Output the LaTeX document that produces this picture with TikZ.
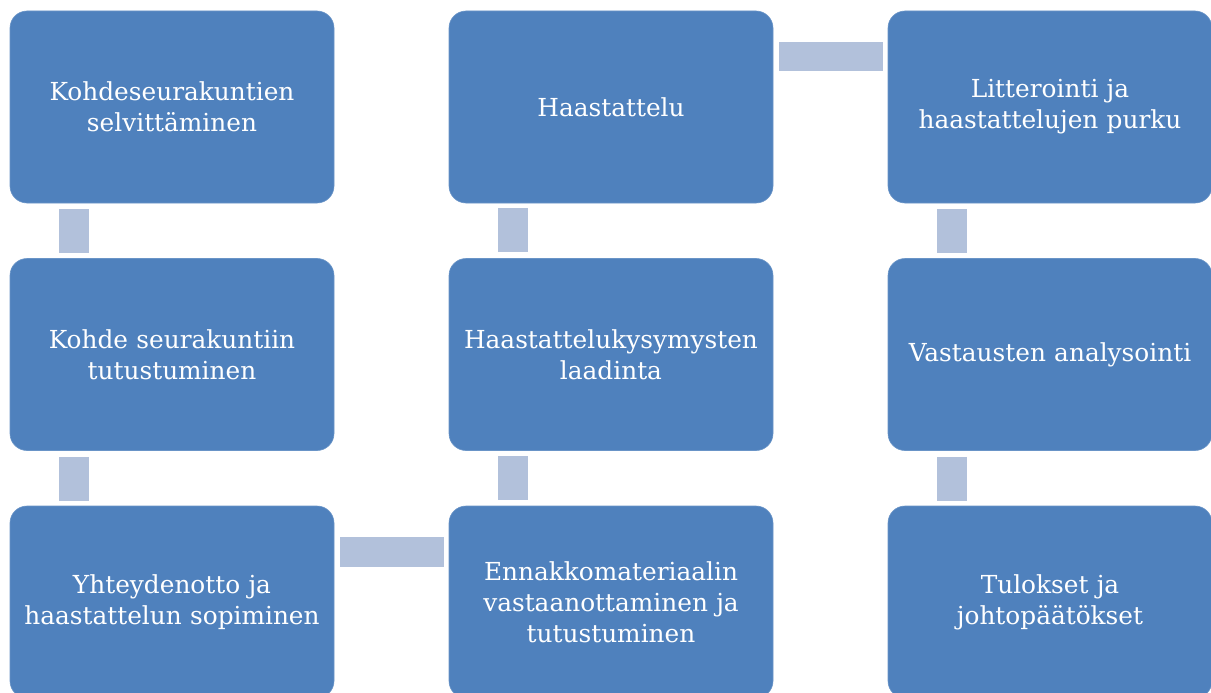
\documentclass[tikz,border=0pt]{standalone}
\usepackage{fontspec}
\setmainfont{DejaVu Serif}
\usetikzlibrary{calc}
\definecolor{boxblue}{HTML}{4F81BD}
\definecolor{connblue}{HTML}{B2C1DB}
\tikzset{
  stepbox/.style={rectangle, rounded corners=17pt, fill=boxblue, draw=boxblue!85!white, line width=0.6pt,
    minimum width=324pt, minimum height=192pt, text width=322pt, align=center, inner sep=0pt,
    text=white, font=\fontsize{24.8}{31}\selectfont},
  vconn/.style={draw=connblue, line width=30pt, shorten <=6pt, shorten >=5pt},
  hconn/.style={draw=connblue, line width=29.5pt, shorten <=6pt, shorten >=5pt}
}
\begin{document}
\begin{tikzpicture}[x=1pt,y=-1pt]
\useasboundingbox (0,0) rectangle (1211,693);
\node[stepbox] (a1) at (172,107) {Kohdeseurakuntien\\selvittäminen};
\node[stepbox] (a2) at (172,354.5) {Kohde seurakuntiin\\tutustuminen};
\node[stepbox] (a3) at (172,602) {Yhteydenotto ja\\haastattelun sopiminen};
\node[stepbox] (b3) at (611,602) {Ennakkomateriaalin\\vastaanottaminen ja\\tutustuminen};
\node[stepbox] (b2) at (611,354.5) {Haastattelukysymysten\\laadinta};
\node[stepbox] (b1) at (611,107) {Haastattelu};
\node[stepbox] (c1) at (1050,107) {Litterointi ja\\haastattelujen purku};
\node[stepbox] (c2) at (1050,354.5) {Vastausten analysointi};
\node[stepbox] (c3) at (1050,602) {Tulokset ja\\johtopäätökset};
\draw[vconn] ($(a1.south west)+(64,0)$) -- ($(a2.north west)+(64,0)$);
\draw[vconn] ($(a2.south west)+(64,0)$) -- ($(a3.north west)+(64,0)$);
\draw[hconn] ($(a3.north east)+(0,46.5)$) -- ($(b3.north west)+(0,46.5)$);
\draw[vconn] ($(b3.north west)+(64,0)$) -- ($(b2.south west)+(64,0)$);
\draw[vconn] ($(b2.north west)+(64,0)$) -- ($(b1.south west)+(64,0)$);
\draw[hconn] ($(b1.north east)+(0,46)$) -- ($(c1.north west)+(0,46)$);
\draw[vconn] ($(c1.south west)+(64,0)$) -- ($(c2.north west)+(64,0)$);
\draw[vconn] ($(c2.south west)+(64,0)$) -- ($(c3.north west)+(64,0)$);
\end{tikzpicture}
\end{document}
